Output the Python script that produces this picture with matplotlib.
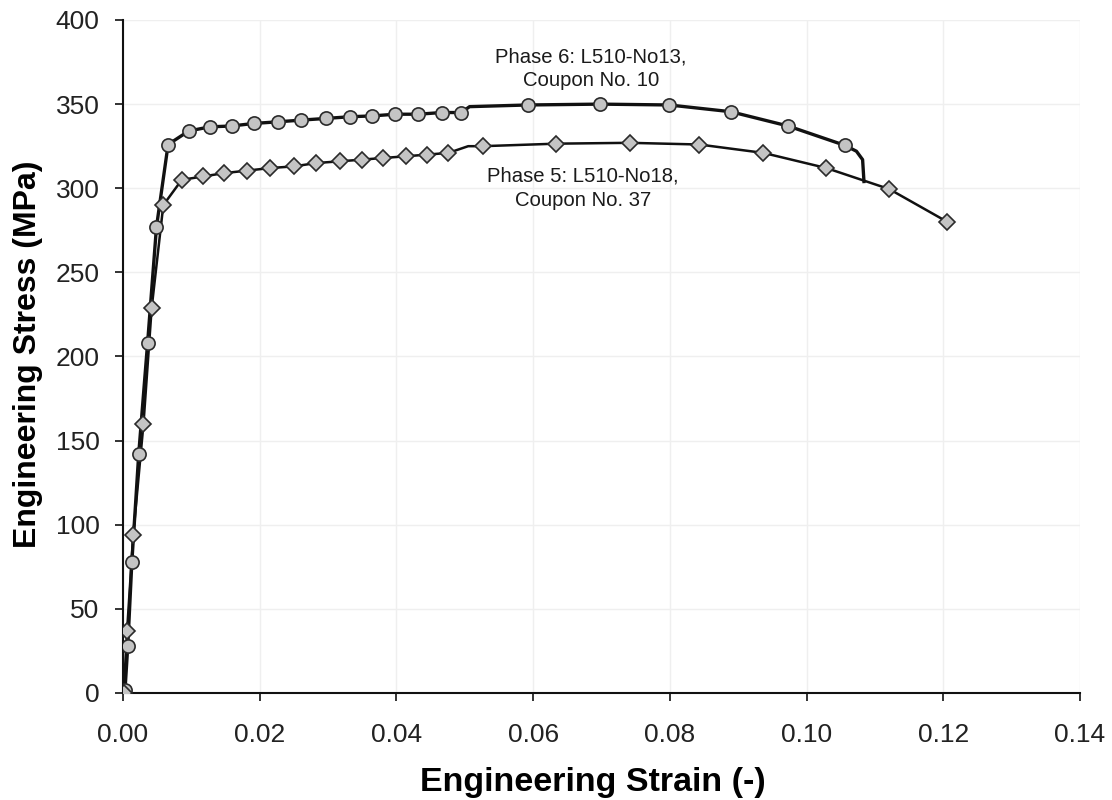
from matplotlib import pyplot as plt
import numpy as np

# Phase 6 coupon (circles): strain (-), stress (MPa) at the marker points
phase6_strain = [0.0003, 0.0007, 0.0013, 0.0023, 0.0036, 0.0049, 0.0066, 0.0096,
                 0.0127, 0.0159, 0.0191, 0.0227, 0.0261, 0.0297, 0.0332, 0.0365,
                 0.0398, 0.0432, 0.0466, 0.0495, 0.0593, 0.0698, 0.0799, 0.0889,
                 0.0973, 0.1056]
phase6_stress = [2, 28, 78, 142, 208, 277, 326, 334,
                 336.5, 337, 338.5, 339.5, 340.5, 341.5, 342.5, 343,
                 344, 344, 345, 345, 349.5, 350, 349.5, 345.5,
                 337, 325.5]
# extra points on the measured curve (start, step and fracture drop)
phase6_curve_strain = [0.0, 0.0507, 0.1073, 0.1082, 0.1084]
phase6_curve_stress = [0, 348.5, 322, 317, 304]

# Phase 5 coupon (diamonds)
phase5_strain = [0.0001, 0.0006, 0.0015, 0.0030, 0.0042, 0.0059, 0.0086, 0.0117,
                 0.0148, 0.0182, 0.0215, 0.0250, 0.0283, 0.0317, 0.0349, 0.0381,
                 0.0414, 0.0445, 0.0476, 0.0526, 0.0634, 0.0741, 0.0843, 0.0937,
                 0.1029, 0.1121, 0.1206]
phase5_stress = [0, 37, 94, 160, 229, 290, 305, 307,
                 309, 310.5, 312, 313, 315, 316, 317, 318,
                 319, 320, 321, 325, 326.5, 327, 326, 321,
                 312, 299.5, 280]
phase5_curve_strain = [0.0505]
phase5_curve_stress = [325]

x_ticks = [0.00, 0.02, 0.04, 0.06, 0.08, 0.10, 0.12, 0.14]
y_ticks = [0, 50, 100, 150, 200, 250, 300, 350, 400]

phase6_label = "Phase 6: L510-No13,\nCoupon No. 10"
phase5_label = "Phase 5: L510-No18,\nCoupon No. 37"


def full_curve(xs, ys, extra_x, extra_y):
    x = np.array(list(xs) + list(extra_x))
    y = np.array(list(ys) + list(extra_y))
    order = np.argsort(x, kind="stable")
    return x[order], y[order]


def main():
    plt.rcParams['font.family'] = ['Liberation Sans', 'DejaVu Sans']

    fig = plt.figure(figsize=(11.12, 8.0), dpi=100)
    ax = fig.add_axes([0.1106, 0.13375, 0.8606, 0.84125])

    x6, y6 = full_curve(phase6_strain, phase6_stress, phase6_curve_strain, phase6_curve_stress)
    x5, y5 = full_curve(phase5_strain, phase5_stress, phase5_curve_strain, phase5_curve_stress)

    ax.plot(x6, y6, color='#111111', lw=2.4, zorder=3, solid_joinstyle='round')
    ax.plot(x5, y5, color='#111111', lw=1.8, zorder=3, solid_joinstyle='round')

    ax.plot(phase6_strain, phase6_stress, ls='none', marker='o', ms=9.5,
            mfc='#c4c4c4', mec='#2a2a2a', mew=1.2, zorder=4)
    ax.plot(phase5_strain, phase5_stress, ls='none', marker='D', ms=8,
            mfc='#c4c4c4', mec='#2a2a2a', mew=1.2, zorder=4)

    ax.text(0.0685, 371, phase6_label, ha='center', va='center', fontsize=14.6,
            color='#1a1a1a', linespacing=1.35)
    ax.text(0.0673, 300, phase5_label, ha='center', va='center', fontsize=14.6,
            color='#1a1a1a', linespacing=1.35)

    ax.set_xlim(0, 0.14)
    ax.set_ylim(0, 400)
    ax.set_xticks(x_ticks)
    ax.set_xticklabels(["%.2f" % t for t in x_ticks])
    ax.set_yticks(y_ticks)

    ax.grid(True, color='#efefef', lw=1.0, zorder=0)
    ax.set_axisbelow(True)

    for side in ('top', 'right'):
        ax.spines[side].set_visible(False)
    for side in ('left', 'bottom'):
        ax.spines[side].set_linewidth(1.5)
        ax.spines[side].set_color('#111111')

    ax.tick_params(axis='both', direction='out', length=6, width=1.2,
                   labelsize=19, colors='#111111', labelcolor='#222222')
    ax.tick_params(axis='x', pad=15.5)
    ax.tick_params(axis='y', pad=11)

    ax.set_xlabel("Engineering Strain (-)", fontsize=24.5, fontweight='bold')
    ax.set_ylabel("Engineering Stress (MPa)", fontsize=23, fontweight='bold')
    ax.xaxis.set_label_coords(0.491, -0.11)
    ax.yaxis.set_label_coords(-0.0836, 0.504)

    fig.savefig("out.png", dpi=100, facecolor='white')


if __name__ == "__main__":
    main()
